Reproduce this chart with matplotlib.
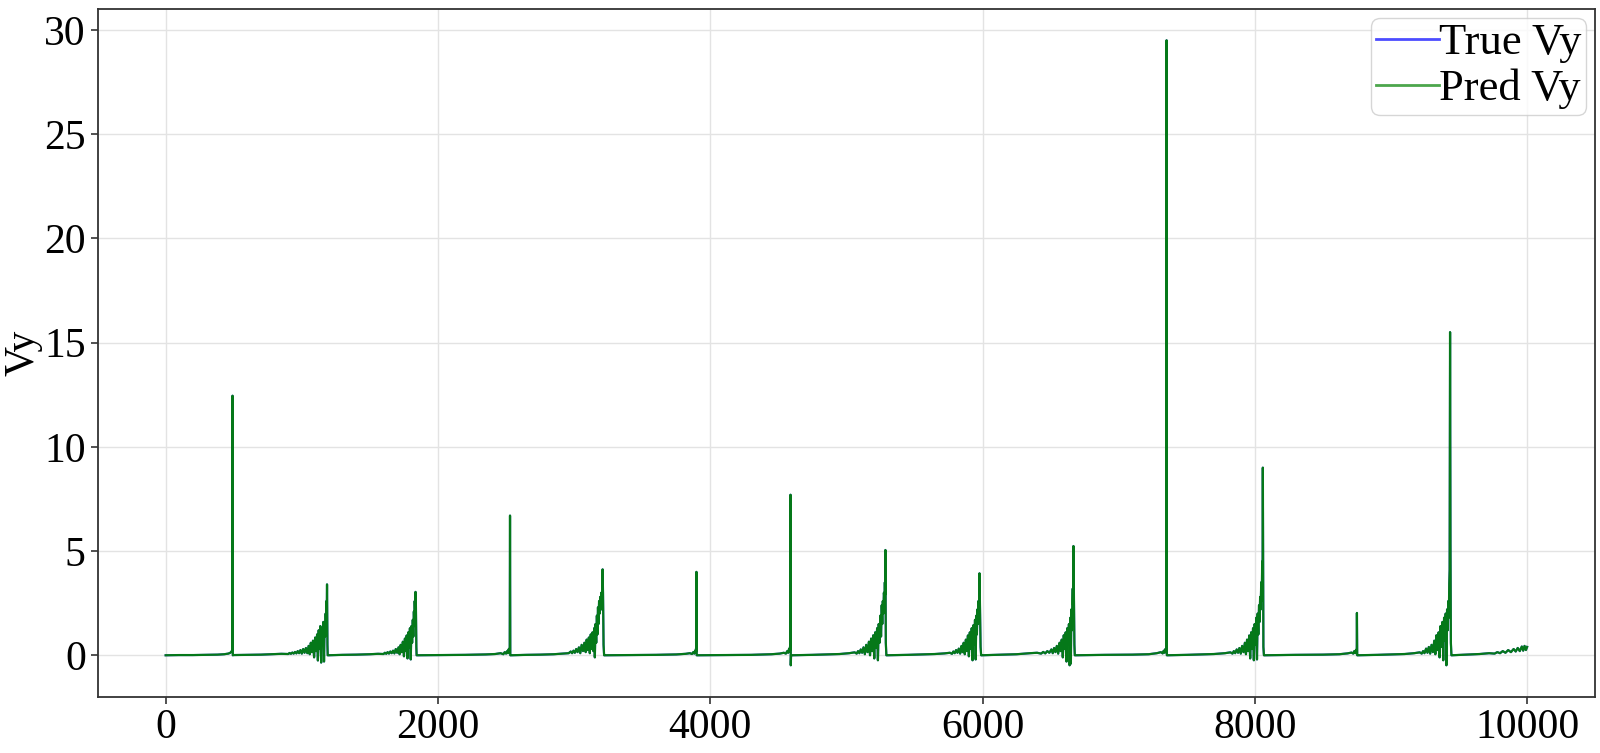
import matplotlib
matplotlib.use("Agg")
import matplotlib.pyplot as plt

# Vy trace: vertices (sample index, value), one row block per cycle
t_pred = [
    # cycle 0 - flat, single spike
    0, 100, 200, 300, 380, 430, 460, 475, 483, 488, 490, 491, 493,
    # cycle 1 - noisy ramp
    495, 600, 700, 780, 850, 900, 910, 920, 930, 940, 950, 960, 970, 980, 990, 1000,
    1010, 1020, 1030, 1040, 1050, 1058, 1066, 1074, 1082, 1090, 1098, 1105, 1112, 1118,
    1124, 1130, 1136, 1142, 1148, 1153, 1158, 1163, 1167, 1171, 1175, 1178, 1181, 1183,
    1185, 1188, 1190,
    # cycle 2 - noisy ramp
    1192, 1300, 1400, 1500, 1560, 1600, 1610, 1620, 1630, 1640, 1650, 1660, 1670, 1680,
    1690, 1700, 1710, 1718, 1726, 1734, 1742, 1750, 1757, 1764, 1770, 1776, 1782, 1788,
    1794, 1800, 1805, 1810, 1815, 1819, 1823, 1826, 1829, 1832, 1835, 1838, 1841, 1843,
    # cycle 3 - flat, single spike
    1845, 2000, 2200, 2350, 2420, 2460, 2480, 2490, 2500, 2508, 2514, 2518, 2522, 2525,
    2527, 2529, 2531,
    # cycle 4 - noisy ramp
    2535, 2650, 2750, 2850, 2920, 2960, 2975, 2985, 2995, 3005, 3015, 3025, 3035, 3045,
    3055, 3065, 3075, 3085, 3092, 3100, 3108, 3115, 3122, 3128, 3135, 3141, 3147, 3152,
    3157, 3162, 3167, 3171, 3175, 3179, 3183, 3187, 3191, 3195, 3199, 3203, 3206, 3209,
    3212, 3216, 3220,
    # cycle 5 - flat, single spike
    3222, 3400, 3600, 3750, 3820, 3850, 3865, 3875, 3882, 3888, 3892, 3895, 3897, 3898, 3900,
    # cycle 6 - flat, single spike
    3902, 4100, 4300, 4450, 4510, 4540, 4555, 4565, 4572, 4578, 4582, 4585, 4587, 4589,
    4591, 4593,
    # cycle 7 - noisy ramp
    4595, 4750, 4850, 4950, 5020, 5060, 5075, 5085, 5095, 5105, 5115, 5125, 5135, 5145,
    5155, 5165, 5173, 5181, 5189, 5197, 5204, 5211, 5218, 5225, 5231, 5237, 5243, 5249,
    5254, 5259, 5263, 5267, 5271, 5275, 5279, 5282, 5284, 5286, 5289, 5293,
    # cycle 8 - noisy ramp
    5295, 5450, 5550, 5650, 5720, 5760, 5775, 5785, 5795, 5805, 5815, 5825, 5835, 5845,
    5853, 5861, 5869, 5877, 5885, 5892, 5899, 5906, 5913, 5920, 5926, 5932, 5938, 5944,
    5949, 5954, 5958, 5962, 5966, 5969, 5972, 5975, 5977, 5981, 5985, 5989,
    # cycle 9 - noisy ramp
    5991, 6150, 6250, 6349, 6400, 6430, 6445, 6460, 6475, 6490, 6505, 6515, 6525, 6535,
    6545, 6555, 6565, 6573, 6581, 6589, 6596, 6603, 6610, 6616, 6622, 6628, 6634, 6639,
    6644, 6648, 6652, 6656, 6659, 6662, 6664, 6667, 6670, 6674, 6677,
    # cycle 10 - flat, big spike
    6679, 6900, 7100, 7220, 7280, 7310, 7322, 7330, 7337, 7342, 7346, 7349, 7351, 7353,
    # cycle 11 - noisy ramp
    7355, 7500, 7600, 7700, 7780, 7820, 7835, 7845, 7855, 7866, 7876, 7886, 7896, 7906,
    7916, 7926, 7934, 7942, 7950, 7958, 7965, 7972, 7979, 7986, 7992, 7998, 8004, 8010,
    8015, 8020, 8025, 8030, 8034, 8038, 8042, 8046, 8050, 8053, 8056, 8058, 8062, 8066,
    # cycle 12 - flat, small spike
    8068, 8300, 8500, 8620, 8680, 8710, 8722, 8730, 8737, 8742, 8746, 8748, 8749, 8751,
    # cycle 13 - noisy ramp
    8753, 8900, 9000, 9100, 9170, 9210, 9225, 9235, 9245, 9257, 9267, 9277, 9287, 9297,
    9307, 9317, 9325, 9333, 9341, 9349, 9356, 9363, 9370, 9377, 9383, 9389, 9395, 9401,
    9406, 9411, 9416, 9420, 9424, 9427, 9430, 9433, 9436, 9439, 9443,
    # tail
    9445, 9550, 9650, 9720, 9760, 9780, 9800, 9820, 9840, 9860, 9880, 9900, 9915, 9930,
    9945, 9960, 9970, 9980, 9990, 9999,
]

vy_pred = [
    0.0, 0.01, 0.01, 0.02, 0.03, 0.05, 0.08, 0.12, 0.18, 0.22, 0.3, 12.45, 0.0,

    0.01, 0.02, 0.03, 0.05, 0.07, 0.06, 0.11, 0.07, 0.13, 0.08, 0.16, 0.09, 0.2, 0.1, 0.25, 0.08,
    0.3, 0.12, 0.35, 0.1, 0.45, 0.05, 0.6, 0.15, 0.7, -0.1, 0.85, 0.2, 1.0, -0.25,
    1.2, 0.3, 1.4, -0.35, 1.3, 0.5, 1.6, -0.3, 1.5, 0.9, 2.0, 1.2, 2.6, 1.8,
    3.4, 0.5, 0.0,

    0.0, 0.02, 0.03, 0.05, 0.07, 0.06, 0.12, 0.07, 0.15, 0.08, 0.18, 0.1, 0.22, 0.09,
    0.3, 0.12, 0.38, 0.05, 0.5, 0.15, 0.65, -0.05, 0.8, 0.2, 0.95, -0.15, 1.1, 0.35,
    1.3, -0.2, 1.4, 0.6, 1.7, 0.9, 2.1, 1.4, 2.6, 2.0, 3.04, 2.3, 0.4, 0.0,

    0.0, 0.01, 0.02, 0.04, 0.06, 0.1, 0.05, 0.15, 0.08, 0.2, 0.1, 0.28, 0.15, 0.32,
    0.2, 6.7, 0.0,

    0.0, 0.02, 0.03, 0.05, 0.08, 0.1, 0.18, 0.1, 0.22, 0.12, 0.3, 0.15, 0.38, 0.1,
    0.5, 0.2, 0.6, 0.15, 0.75, 0.25, 0.85, 0.1, 1.0, 0.3, 1.1, 0.2, 1.3, -0.1,
    1.5, 0.6, 1.9, 1.0, 2.3, 1.5, 2.6, 2.0, 2.8, 2.4, 3.0, 2.2, 3.3, 4.12,
    3.0, 0.5, 0.0,

    0.0, 0.01, 0.02, 0.04, 0.07, 0.1, 0.06, 0.15, 0.08, 0.22, 0.12, 0.32, 0.2, 4.0, 0.0,

    0.0, 0.01, 0.02, 0.05, 0.08, 0.12, 0.08, 0.2, 0.12, 0.3, 0.18, 0.4, 0.25, 7.7,
    -0.48, 0.0,

    0.0, 0.02, 0.04, 0.06, 0.1, 0.14, 0.08, 0.2, 0.1, 0.28, 0.12, 0.38, 0.05, 0.5,
    0.15, 0.65, 0.0, 0.8, 0.2, 0.96, -0.15, 1.1, 0.35, 1.3, -0.24, 1.5, 0.6, 1.9,
    0.9, 2.4, 1.5, 2.6, 2.0, 3.0, 2.6, 3.5, 2.9, 5.05, 0.6, 0.0,

    0.0, 0.02, 0.04, 0.06, 0.09, 0.12, 0.07, 0.18, 0.1, 0.25, 0.12, 0.32, 0.08, 0.45,
    0.15, 0.6, 0.05, 0.75, 0.2, 0.95, -0.05, 1.1, 0.3, 1.3, -0.24, 1.44, 0.5, 1.7,
    -0.2, 1.9, 1.0, 2.2, 1.5, 2.6, 2.0, 2.9, 3.93, 2.0, 0.4, 0.0,

    0.0, 0.03, 0.05, 0.1, 0.12, 0.08, 0.16, 0.09, 0.2, 0.12, 0.28, 0.1, 0.35, 0.15,
    0.45, 0.08, 0.6, 0.2, 0.75, -0.1, 0.96, 0.3, 1.1, -0.3, 1.3, 0.5, 1.5, -0.48,
    1.8, -0.4, 2.2, 1.2, 2.6, 3.2, 2.4, 5.24, 3.0, 0.5, 0.0,

    0.0, 0.02, 0.03, 0.05, 0.1, 0.15, 0.09, 0.22, 0.12, 0.3, 0.2, 0.4, 29.5, 0.0,

    0.0, 0.02, 0.04, 0.06, 0.1, 0.14, 0.08, 0.2, 0.1, 0.28, 0.12, 0.35, 0.08, 0.45,
    0.15, 0.6, 0.05, 0.75, 0.2, 0.95, -0.15, 1.1, 0.3, 1.3, -0.24, 1.5, 0.5, 1.8,
    -0.2, 2.0, 1.0, 2.4, 1.6, 2.8, 2.2, 3.5, 2.6, 4.5, 3.2, 9.0, 0.4, 0.0,

    0.0, 0.02, 0.03, 0.05, 0.09, 0.13, 0.08, 0.2, 0.1, 0.26, 0.15, 0.3, 2.03, 0.0,

    0.0, 0.02, 0.04, 0.06, 0.1, 0.14, 0.08, 0.2, 0.1, 0.32, 0.12, 0.4, 0.08, 0.5,
    0.15, 0.7, 0.05, 0.96, 0.25, 1.1, -0.1, 1.4, 0.4, 1.6, -0.24, 1.8, 0.7, 2.0,
    -0.48, 2.2, 1.2, 2.6, 1.8, 3.4, 4.1, 15.5, 5.3, 0.6, 0.0,

    0.0, 0.03, 0.06, 0.1, 0.08, 0.15, 0.1, 0.2, 0.12, 0.25, 0.15, 0.3, 0.18, 0.35,
    0.2, 0.42, 0.22, 0.45, 0.25, 0.4,
]

# true values are hidden under the prediction in the original plot
t_true = t_pred
vy_true = vy_pred

x_ticks = [0, 2000, 4000, 6000, 8000, 10000]
y_ticks = [0, 5, 10, 15, 20, 25, 30]

plt.rcParams['font.family'] = ['Liberation Serif', 'DejaVu Serif']

fig, ax = plt.subplots(figsize=(16, 7.53), dpi=100)
fig.subplots_adjust(left=0.061, right=0.997, top=0.988, bottom=0.075)

ax.plot(t_true, vy_true, color='blue', lw=1.5, alpha=0.8, label='True Vy')
ax.plot(t_pred, vy_pred, color='green', lw=1.6, alpha=0.9, label='Pred Vy')

ax.set_xticks(x_ticks)
ax.set_yticks(y_ticks)
ax.tick_params(labelsize=30, length=5, width=1.2, color='#333333')
ax.set_ylabel('Vy', fontsize=30, labelpad=1)
ax.grid(True, color='#e3e3e3', lw=1)
ax.set_axisbelow(True)
for s in ax.spines.values():
    s.set_linewidth(1.3)
    s.set_color('#333333')

leg = ax.legend(loc='upper right', fontsize=32, handletextpad=0.0, handlelength=1.4,
                borderaxespad=0.2, labelspacing=0.12, borderpad=0.12)
leg.get_frame().set_edgecolor('#cccccc')
for ln in leg.get_lines():
    ln.set_alpha(0.7)
    ln.set_linewidth(2)

fig.savefig('out.png', dpi=100)
